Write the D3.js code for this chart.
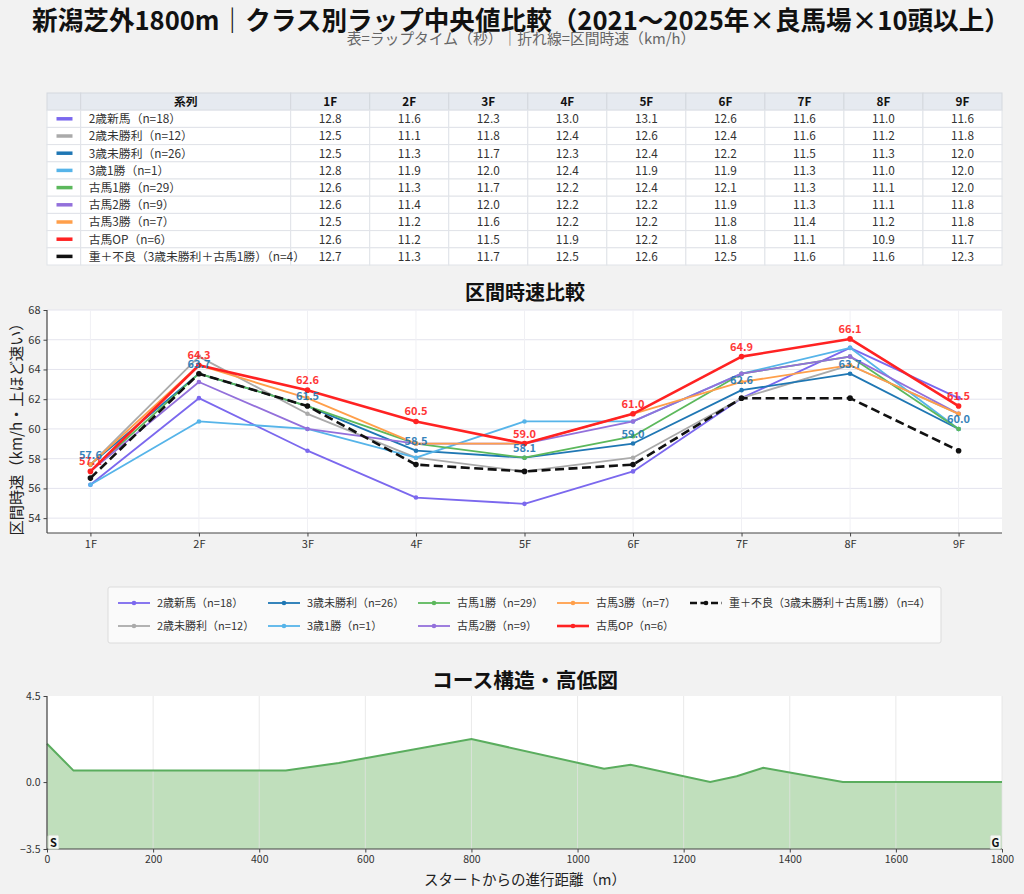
<!DOCTYPE html>
<html>
<head>
<meta charset="utf-8">
<script src="https://cdn.jsdelivr.net/npm/d3@7"></script>
<style>
  body { margin: 0; background: #f2f2f2; font-family: "Noto Sans CJK JP", "Noto Sans", sans-serif; }
  svg { display: block; }
</style>
</head>
<body>
<svg id="chart" width="1024" height="894"></svg>
<script>
// ---- data ----
const seriesNames = ["2歳新馬（n=18）", "2歳未勝利（n=12）", "3歳未勝利（n=26）", "3歳1勝（n=1）", "古馬1勝（n=29）",
    "古馬2勝（n=9）", "古馬3勝（n=7）", "古馬OP（n=6）", "重＋不良（3歳未勝利＋古馬1勝）（n=4）"];
const seriesColors = ["#7b68ee", "#aaaaaa", "#1f77b4", "#56b4e9", "#5cb85c", "#9370db", "#ff9f4a", "#ff2222", "#111111"];
const furlongs = ["1F", "2F", "3F", "4F", "5F", "6F", "7F", "8F", "9F"];
const lapTimes = [
    [12.8, 11.6, 12.3, 13.0, 13.1, 12.6, 11.6, 11.0, 11.6],
    [12.5, 11.1, 11.8, 12.4, 12.6, 12.4, 11.6, 11.2, 11.8],
    [12.5, 11.3, 11.7, 12.3, 12.4, 12.2, 11.5, 11.3, 12.0],
    [12.8, 11.9, 12.0, 12.4, 11.9, 11.9, 11.3, 11.0, 12.0],
    [12.6, 11.3, 11.7, 12.2, 12.4, 12.1, 11.3, 11.1, 12.0],
    [12.6, 11.4, 12.0, 12.2, 12.2, 11.9, 11.3, 11.1, 11.8],
    [12.5, 11.2, 11.6, 12.2, 12.2, 11.8, 11.4, 11.2, 11.8],
    [12.6, 11.2, 11.5, 11.9, 12.2, 11.8, 11.1, 10.9, 11.7],
    [12.7, 11.3, 11.7, 12.5, 12.6, 12.5, 11.6, 11.6, 12.3]
];
const dashedSeries = [8];
const labeledSeries = [7, 2];   // 古馬OP, 3歳未勝利
const speedTicks = [54, 56, 58, 60, 62, 64, 66, 68];

const courseDistance = [0, 50, 450, 550, 800, 1050, 1100, 1250, 1300, 1350, 1500, 1800];
const courseElevation = [2.0, 0.6, 0.6, 1.0, 2.25, 0.7, 0.9, 0.0, 0.3, 0.75, 0.0, 0.0];
const elevTicks = [-3.5, 0.0, 4.5];
const distTicks = [0, 200, 400, 600, 800, 1000, 1200, 1400, 1600, 1800];

// lap time (sec per 200m) -> km/h
const toSpeed = t => 720 / t;

const svg = d3.select("#chart");
const left = 47, right = 1002;

// ---- titles ----
svg.append("text").attr("x", 521).attr("y", 29.5).attr("text-anchor", "middle")
    .attr("font-size", 25.6).attr("font-weight", "bold").attr("fill", "#111")
    .text("新潟芝外1800m｜クラス別ラップ中央値比較（2021〜2025年×良馬場×10頭以上）");
svg.append("text").attr("x", 521).attr("y", 44).attr("text-anchor", "middle")
    .attr("font-size", 14.8).attr("fill", "#666")
    .text("表=ラップタイム（秒）｜折れ線=区間時速（km/h）");

// ---- table ----
function drawTable() {
    const top = 93, rowH = 17.2;
    const swatchW = 33.7, nameW = 210;
    const colW = (right - left - swatchW - nameW) / furlongs.length;
    const g = svg.append("g").attr("font-size", 11.8);
    const colX = [left, left + swatchW, left + swatchW + nameW];
    furlongs.forEach((f, i) => colX.push(left + swatchW + nameW + colW * (i + 1)));

    // header
    for (let c = 0; c < colX.length - 1; c++) {
        g.append("rect").attr("x", colX[c]).attr("y", top).attr("width", colX[c + 1] - colX[c]).attr("height", rowH)
            .attr("fill", "#e6eaf0").attr("stroke", "#d4d8de").attr("stroke-width", 1);
    }
    g.append("text").attr("x", (colX[1] + colX[2]) / 2).attr("y", top + rowH / 2 + 4.5)
        .attr("text-anchor", "middle").attr("font-weight", "bold").attr("fill", "#111").text("系列");
    furlongs.forEach((f, i) => {
        g.append("text").attr("x", (colX[i + 2] + colX[i + 3]) / 2).attr("y", top + rowH / 2 + 4.5)
            .attr("text-anchor", "middle").attr("font-weight", "bold").attr("fill", "#111").text(f);
    });

    seriesNames.forEach((name, r) => {
        const y = top + rowH * (r + 1);
        for (let c = 0; c < colX.length - 1; c++) {
            g.append("rect").attr("x", colX[c]).attr("y", y).attr("width", colX[c + 1] - colX[c]).attr("height", rowH)
                .attr("fill", "#fff").attr("stroke", "#e0e3e8").attr("stroke-width", 1);
        }
        g.append("line").attr("x1", left + 9.5).attr("x2", left + 25.5).attr("y1", y + rowH / 2).attr("y2", y + rowH / 2)
            .attr("stroke", seriesColors[r]).attr("stroke-width", 3.5);
        g.append("text").attr("x", colX[1] + 8).attr("y", y + rowH / 2 + 4.3).attr("fill", "#333").text(name);
        lapTimes[r].forEach((t, i) => {
            g.append("text").attr("x", (colX[i + 2] + colX[i + 3]) / 2).attr("y", y + rowH / 2 + 4.3)
                .attr("text-anchor", "middle").attr("fill", "#333").text(t.toFixed(1));
        });
    });
}
drawTable();

// ---- speed line chart ----
function drawSpeedChart() {
    const top = 310, bottom = 533;
    const x = d3.scaleLinear().domain([-0.4, 8.4]).range([left, right]);
    const y = d3.scaleLinear().domain([53, 68]).range([bottom, top]);
    const g = svg.append("g");

    svg.append("text").attr("x", 525).attr("y", 300).attr("text-anchor", "middle")
        .attr("font-size", 20).attr("font-weight", "bold").attr("fill", "#111").text("区間時速比較");

    g.append("rect").attr("x", left).attr("y", top).attr("width", right - left).attr("height", bottom - top).attr("fill", "#fff");
    g.append("g").selectAll("line").data(speedTicks).join("line")
        .attr("x1", left).attr("x2", right).attr("y1", d => y(d)).attr("y2", d => y(d))
        .attr("stroke", "#e4e4ee").attr("stroke-width", 1);
    g.append("g").selectAll("line").data(furlongs).join("line")
        .attr("x1", (d, i) => x(i)).attr("x2", (d, i) => x(i)).attr("y1", top).attr("y2", bottom)
        .attr("stroke", "#f0f0f4").attr("stroke-width", 1);

    const yAxis = g.append("g").attr("transform", `translate(${left},0)`)
        .call(d3.axisLeft(y).tickValues(speedTicks).tickSize(3.5).tickPadding(3));
    const xAxis = g.append("g").attr("transform", `translate(0,${bottom})`)
        .call(d3.axisBottom(x).tickValues(d3.range(furlongs.length)).tickFormat(i => furlongs[i]).tickSize(3.5).tickPadding(4));
    [yAxis, xAxis].forEach(a => {
        a.selectAll("text").attr("font-size", 11).attr("fill", "#333").attr("font-family", "Noto Sans CJK JP");
        a.selectAll("line").attr("stroke", "#444");
        a.select(".domain").attr("stroke", "#444").attr("stroke-width", 1.2);
    });
    xAxis.select(".domain").attr("d", `M${left},0H${right}`);
    yAxis.select(".domain").attr("d", `M0,${top}V${bottom}`);

    g.append("text").attr("transform", `translate(17,${(top + bottom) / 2 + 4}) rotate(-90)`)
        .attr("text-anchor", "middle").attr("dy", "0.35em").attr("font-size", 15.2).attr("fill", "#222")
        .text("区間時速（km/h・上ほど速い）");

    const line = d3.line().x((d, i) => x(i)).y(d => y(toSpeed(d)));
    lapTimes.forEach((laps, s) => {
        const dashed = dashedSeries.includes(s);
        const thick = dashed || s === 7;
        g.append("path").datum(laps).attr("d", line).attr("fill", "none")
            .attr("stroke", seriesColors[s]).attr("stroke-width", thick ? 2.6 : 1.8)
            .attr("stroke-dasharray", dashed ? "9,4.5" : null).attr("stroke-linejoin", "round");
        g.append("g").selectAll("circle").data(laps).join("circle")
            .attr("cx", (d, i) => x(i)).attr("cy", d => y(toSpeed(d))).attr("r", thick ? 2.8 : 2.3)
            .attr("fill", seriesColors[s]);
    });

    labeledSeries.forEach(s => {
        g.append("g").selectAll("text").data(lapTimes[s]).join("text")
            .attr("x", (d, i) => x(i)).attr("y", d => y(toSpeed(d)) - 6)
            .attr("text-anchor", "middle").attr("font-size", 11).attr("font-weight", "bold")
            .attr("fill", seriesColors[s]).attr("opacity", 0.9)
            .text(d => toSpeed(d).toFixed(1));
    });

    // legend
    const lg = svg.append("g").attr("font-size", 11);
    lg.append("rect").attr("x", 108).attr("y", 587).attr("width", 833).attr("height", 56)
        .attr("fill", "#fafafa").attr("stroke", "#dcdcdc").attr("rx", 2);
    const colStarts = [118, 268, 418, 557, 690];
    seriesNames.forEach((name, s) => {
        const cx = colStarts[Math.floor(s / 2)];
        const cy = s % 2 === 0 ? 603 : 626;
        const dashed = dashedSeries.includes(s);
        lg.append("line").attr("x1", cx).attr("x2", cx + 32).attr("y1", cy).attr("y2", cy)
            .attr("stroke", seriesColors[s]).attr("stroke-width", dashed || s === 7 ? 2.6 : 1.8)
            .attr("stroke-dasharray", dashed ? "7,3.5" : null);
        lg.append("circle").attr("cx", cx + 16).attr("cy", cy).attr("r", 2.3).attr("fill", seriesColors[s]);
        lg.append("text").attr("x", cx + 39).attr("y", cy + 4).attr("fill", "#333").text(name);
    });
}
drawSpeedChart();

// ---- course elevation ----
function drawCourse() {
    const top = 696, bottom = 849;
    const x = d3.scaleLinear().domain([0, 1800]).range([left, right]);
    const y = d3.scaleLinear().domain([-3.5, 4.5]).range([bottom, top]);
    const g = svg.append("g");
    const pts = courseDistance.map((d, i) => [d, courseElevation[i]]);

    svg.append("text").attr("x", 525).attr("y", 688).attr("text-anchor", "middle")
        .attr("font-size", 20.8).attr("font-weight", "bold").attr("fill", "#111").text("コース構造・高低図");

    g.append("rect").attr("x", left).attr("y", top).attr("width", right - left).attr("height", bottom - top).attr("fill", "#fff");
    g.append("path").datum(pts)
        .attr("d", d3.area().x(d => x(d[0])).y0(y(-3.5)).y1(d => y(d[1])))
        .attr("fill", "#c0dfbc");
    g.append("g").selectAll("line").data(distTicks).join("line")
        .attr("x1", d => x(d)).attr("x2", d => x(d)).attr("y1", top).attr("y2", bottom)
        .attr("stroke", "rgba(225,225,225,0.75)").attr("stroke-width", 1);
    g.append("path").datum(pts)
        .attr("d", d3.line().x(d => x(d[0])).y(d => y(d[1])))
        .attr("fill", "none").attr("stroke", "#5aad5e").attr("stroke-width", 2);

    const yAxis = g.append("g").attr("transform", `translate(${left},0)`)
        .call(d3.axisLeft(y).tickValues(elevTicks).tickFormat(d3.format(".1f")).tickSize(3.5).tickPadding(3));
    const xAxis = g.append("g").attr("transform", `translate(0,${bottom})`)
        .call(d3.axisBottom(x).tickValues(distTicks).tickFormat(d3.format("d")).tickSize(3.5).tickPadding(3));
    [yAxis, xAxis].forEach(a => {
        a.selectAll("text").attr("font-size", 10.5).attr("fill", "#333").attr("font-family", "Noto Sans CJK JP");
        a.selectAll("line").attr("stroke", "#444");
        a.select(".domain").attr("stroke", "#444").attr("stroke-width", 1.2);
    });
    xAxis.select(".domain").attr("d", `M${left},0H${right}`);
    yAxis.select(".domain").attr("d", `M0,${top}V${bottom}`);

    g.append("text").attr("x", 525).attr("y", 885).attr("text-anchor", "middle")
        .attr("font-size", 14.5).attr("fill", "#222").text("スタートからの進行距離（m）");

    // start / goal markers
    [["S", x(0) + 1], ["G", x(1800) - 12]].forEach(([t, bx]) => {
        g.append("rect").attr("x", bx).attr("y", bottom - 14).attr("width", 11).attr("height", 14)
            .attr("fill", "#f4f8f2").attr("stroke", "#c8d8c4").attr("rx", 1.5);
        g.append("text").attr("x", bx + 5.5).attr("y", bottom - 2.5).attr("text-anchor", "middle")
            .attr("font-size", 11).attr("font-weight", "bold").attr("fill", "#111").text(t);
    });
}
drawCourse();
</script>
</body>
</html>
